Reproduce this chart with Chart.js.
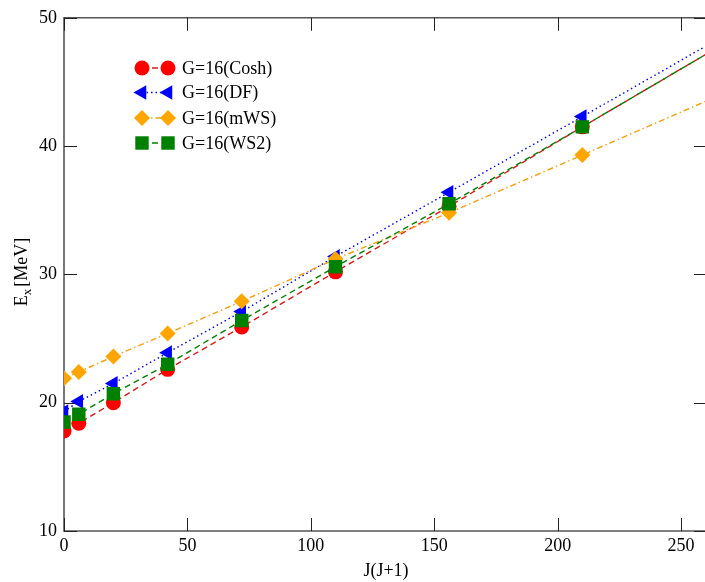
<!DOCTYPE html>
<html>
<head>
<meta charset="utf-8">
<title>E_x vs J(J+1)</title>
<script src="https://cdn.jsdelivr.net/npm/chart.js@4.4.0/dist/chart.umd.min.js"></script>
<style>
    html, body { margin: 0; padding: 0; background: #fff; overflow: hidden; }
    canvas { display: block; }
</style>
</head>
<body>
<canvas id="energyChart" width="705" height="582"></canvas>
<script>
// J(J+1) values of the band members (last one sits just past the right edge)
const jj = [0, 6, 20, 42, 72, 110, 156, 210, 272];

// excitation energies in MeV
const cosh = [17.8, 18.4, 20.0, 22.6, 25.9, 30.2, 35.3, 41.5, 48.5];
const df   = [19.3, 20.1, 21.5, 23.9, 27.1, 31.4, 36.4, 42.3, 49.1];
const mws  = [21.9, 22.4, 23.6, 25.4, 27.9, 31.2, 34.8, 39.3, 44.5];
const ws2  = [18.5, 19.1, 20.7, 23.0, 26.4, 30.6, 35.5, 41.5, 48.5];

const seriesLabels = ["G=16(Cosh)", "G=16(DF)", "G=16(mWS)", "G=16(WS2)"];
const xTicks = [0, 50, 100, 150, 200, 250];
const yTicks = [10, 20, 30, 40, 50];

const serif = "'Liberation Serif', 'Times New Roman', serif";

function pts(ys) {
    return jj.map((x, i) => ({ x: x, y: ys[i] }));
}

// frame (right side runs off the canvas), inward tick marks and axis titles
const framePlugin = {
    id: "frame",
    beforeDatasetsDraw(chart) {
        const { ctx, chartArea: a, scales } = chart;
        ctx.save();
        ctx.strokeStyle = "#555";
        ctx.lineWidth = 1.6;
        ctx.beginPath();
        ctx.moveTo(a.right + 2, a.top);
        ctx.lineTo(a.left, a.top);
        ctx.lineTo(a.left, a.bottom);
        ctx.lineTo(a.right + 2, a.bottom);
        ctx.stroke();

        ctx.strokeStyle = "#222";
        ctx.lineWidth = 1;
        const len = 13;
        ctx.beginPath();
        xTicks.forEach(v => {
            const px = Math.round(scales.x.getPixelForValue(v)) + 0.5;
            ctx.moveTo(px, a.bottom); ctx.lineTo(px, a.bottom - len);
            ctx.moveTo(px, a.top); ctx.lineTo(px, a.top + len);
        });
        yTicks.forEach(v => {
            const py = Math.round(scales.y.getPixelForValue(v)) + 0.5;
            ctx.moveTo(a.left, py); ctx.lineTo(a.left + len, py);
            ctx.moveTo(a.right + 2, py); ctx.lineTo(a.right + 2 - len, py);
        });
        ctx.stroke();

        // x title
        ctx.fillStyle = "#000";
        ctx.font = "18px " + serif;
        ctx.textAlign = "center";
        ctx.textBaseline = "alphabetic";
        ctx.fillText("J(J+1)", 386, 576);

        // y title with subscript
        ctx.translate(22, 272);
        ctx.rotate(-Math.PI / 2);
        ctx.textAlign = "left";
        ctx.textBaseline = "middle";
        const big = "18px " + serif, small = "13px " + serif;
        ctx.font = big;
        const wE = ctx.measureText("E").width;
        const wRest = ctx.measureText("[MeV]").width;
        ctx.font = small;
        const wx = ctx.measureText("x").width;
        let cx = -(wE + wx + 2 + wRest) / 2;
        ctx.font = big;
        ctx.fillText("E", cx, 0);
        cx += wE;
        ctx.font = small;
        ctx.fillText("x", cx, 6);
        cx += wx + 2;
        ctx.font = big;
        ctx.fillText("[MeV]", cx, 0);
        ctx.restore();
    }
};

// legend: marker - line - marker, then the label
const pairLegend = {
    id: "pairLegend",
    afterDraw(chart) {
        const ctx = chart.ctx;
        const rows = [68, 92.5, 118, 143];
        chart.data.datasets.forEach((ds, i) => {
            const yy = rows[i];
            const x1 = 142, x2 = 168;
            ctx.save();
            ctx.strokeStyle = ds.borderColor;
            ctx.lineWidth = ds.borderWidth;
            ctx.setLineDash(ds.borderDash);
            ctx.beginPath();
            ctx.moveTo(x1, yy); ctx.lineTo(x2, yy);
            ctx.stroke();
            ctx.setLineDash([]);
            ctx.fillStyle = ds.pointBackgroundColor;
            [x1, x2].forEach(px => {
                Chart.helpers.drawPoint(ctx, {
                    pointStyle: ds.pointStyle,
                    radius: ds.pointRadius,
                    rotation: ds.pointRotation || 0,
                    borderWidth: 0
                }, px, yy);
            });
            ctx.fillStyle = "#000";
            ctx.font = "18px " + serif;
            ctx.textAlign = "left";
            ctx.textBaseline = "middle";
            ctx.fillText(ds.label, 182, yy + 1);
            ctx.restore();
        });
    }
};

const ctx = document.getElementById("energyChart").getContext("2d");

new Chart(ctx, {
    type: "line",
    data: {
        datasets: [
            {
                label: seriesLabels[0],
                data: pts(cosh),
                borderColor: "#d81818",
                borderWidth: 1.4,
                borderDash: [6, 4],
                pointStyle: "circle",
                pointRadius: 7.5,
                pointBackgroundColor: "#ff0000",
                pointBorderWidth: 0,
                order: 4
            },
            {
                label: seriesLabels[1],
                data: pts(df),
                borderColor: "#0000dd",
                borderWidth: 1.4,
                borderDash: [1.5, 3],
                pointStyle: "triangle",
                pointRotation: -90,
                pointRadius: 8.5,
                pointBackgroundColor: "#0000ff",
                pointBorderWidth: 0,
                order: 3
            },
            {
                label: seriesLabels[2],
                data: pts(mws),
                borderColor: "#f0a010",
                borderWidth: 1.4,
                borderDash: [6, 3, 1.5, 3],
                pointStyle: "rectRot",
                pointRadius: 8,
                pointBackgroundColor: "#ffa500",
                pointBorderWidth: 0,
                order: 2
            },
            {
                label: seriesLabels[3],
                data: pts(ws2),
                borderColor: "#008000",
                borderWidth: 1.4,
                borderDash: [6, 4],
                pointStyle: "rect",
                pointRadius: 9.5,
                pointBackgroundColor: "#008000",
                pointBorderWidth: 0,
                order: 1
            }
        ]
    },
    options: {
        responsive: false,
        animation: false,
        events: [],
        layout: {
            autoPadding: false,
            padding: { top: 12, right: 0, left: 0, bottom: 0 }
        },
        elements: { line: { tension: 0, fill: false } },
        plugins: {
            legend: { display: false },
            tooltip: { enabled: false }
        },
        scales: {
            x: {
                type: "linear",
                min: 0,
                max: 259.7,
                grid: { display: false, drawTicks: false },
                border: { display: false },
                ticks: {
                    stepSize: 50,
                    padding: 4,
                    color: "#000",
                    font: { family: serif, size: 18 },
                    maxRotation: 0
                },
                afterBuildTicks: s => { s.ticks = xTicks.map(v => ({ value: v })); },
                afterFit: s => { s.height = 51; }
            },
            y: {
                type: "linear",
                min: 10,
                max: 50,
                grid: { display: false, drawTicks: false },
                border: { display: false },
                ticks: {
                    stepSize: 10,
                    padding: 7,
                    color: "#000",
                    font: { family: serif, size: 18 }
                },
                afterBuildTicks: s => { s.ticks = yTicks.map(v => ({ value: v })); },
                afterFit: s => { s.width = 64; }
            }
        }
    },
    plugins: [framePlugin, pairLegend]
});
</script>
</body>
</html>
